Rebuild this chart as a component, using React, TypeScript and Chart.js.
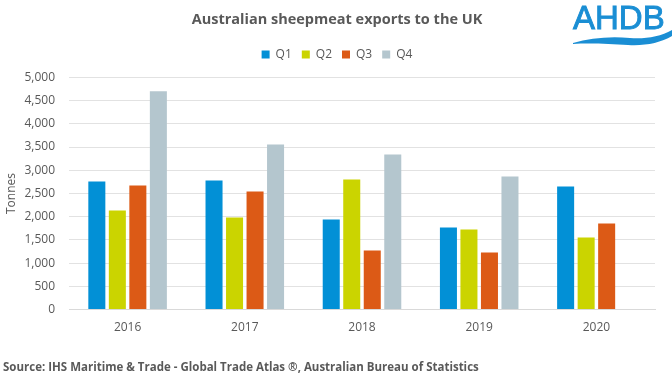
import React, { useEffect, useRef } from "react";
import { Chart, registerables } from "chart.js";

Chart.register(...registerables);

const years = ["2016", "2017", "2018", "2019", "2020"];
const q1 = [2760, 2780, 1940, 1770, 2650];
const q2 = [2135, 1985, 2800, 1725, 1550];
const q3 = [2670, 2545, 1270, 1230, 1855];
const q4: (number | null)[] = [4700, 3555, 3340, 2865, null];
const seriesNames = ["Q1", "Q2", "Q3", "Q4"];
const seriesColors = ["#0290d6", "#cbd400", "#dc5a16", "#b4c6ce"];

const TEXT = "#595959";
const FONT = "'Open Sans', 'Liberation Sans', sans-serif";

export default function App() {
  const ref = useRef<HTMLCanvasElement | null>(null);

  useEffect(() => {
    if (!ref.current) return;
    const values = [q1, q2, q3, q4];
    const chart = new Chart(ref.current, {
      type: "bar",
      data: {
        labels: years,
        datasets: seriesNames.map((name, i) => ({
          label: name,
          data: values[i],
          backgroundColor: seriesColors[i],
          borderWidth: 0,
          categoryPercentage: 0.7,
          barPercentage: 0.83,
          yAxisID: "y",
        })),
      },
      options: {
        animation: false,
        responsive: false,
        maintainAspectRatio: false,
        layout: { padding: { left: 2, right: 0, top: 9, bottom: 32 } },
        plugins: {
          title: {
            display: true,
            text: "Australian sheepmeat exports to the UK",
            color: TEXT,
            font: { family: FONT, size: 14.5, weight: "bold" },
            padding: { top: 2, bottom: 10 },
          },
          subtitle: {
            display: true,
            text: "",
            weight: 500,
            font: { size: 1, lineHeight: 1 },
            padding: { top: 0, bottom: 6 },
          },
          legend: {
            display: true,
            position: "top",
            labels: {
              boxWidth: 8,
              boxHeight: 8,
              color: TEXT,
              font: { family: FONT, size: 12 },
              padding: 10,
            },
          },
          tooltip: { enabled: false },
        },
        scales: {
          x: {
            grid: { display: false, drawTicks: false },
            border: { display: true, color: "#d9d9d9", width: 1 },
            ticks: {
              color: TEXT,
              font: { family: FONT, size: 12 },
              padding: 11,
            },
          },
          y: {
            min: 0,
            max: 5000,
            grid: { color: "#e2e2e2", lineWidth: 1, drawTicks: false },
            border: { display: false },
            ticks: {
              stepSize: 500,
              color: TEXT,
              font: { family: FONT, size: 12 },
              padding: 14,
              callback: (v: any) => Number(v).toLocaleString("en-US"),
            },
            title: {
              display: true,
              text: "Tonnes",
              color: TEXT,
              font: { family: FONT, size: 12 },
              padding: { top: 2, bottom: 0 },
            },
            afterFit: (scale: any) => {
              scale.width = 67;
            },
          },
          yRight: {
            position: "right",
            min: 0,
            max: 5000,
            grid: { display: false, drawTicks: false },
            border: { display: false },
            ticks: { display: false },
            afterFit: (scale: any) => {
              scale.width = 17;
            },
          },
        },
      },
    });
    return () => chart.destroy();
  }, []);

  return (
    <div
      style={{
        position: "fixed",
        left: 0,
        top: 0,
        width: 672,
        height: 378,
        background: "#ffffff",
        overflow: "hidden",
      }}
    >
      <canvas ref={ref} width={672} height={378} style={{ position: "absolute", left: 0, top: 0 }} />
      <svg
        width={112}
        height={52}
        style={{ position: "absolute", left: 560, top: 0 }}
        viewBox="0 0 112 52"
      >
        <text
          x={13}
          y={29}
          fill="#1a8ed4"
          stroke="#1a8ed4"
          strokeWidth={0.9}
          fontFamily="'Liberation Sans', Arial, sans-serif"
          fontSize={33}
        >
          AHDB
        </text>
        <path
          d="M13 43 C 30 38, 50 36, 70 38 C 85 39, 100 37, 112 30 L 112 36 C 100 43, 85 46, 68 45 C 50 44, 30 43, 13 44 Z"
          fill="#1a8ed4"
        />
      </svg>
      <div
        style={{
          position: "absolute",
          left: 3,
          top: 359,
          fontFamily: FONT,
          fontWeight: "bold",
          fontSize: 11.5,
          color: TEXT,
          whiteSpace: "nowrap",
        }}
      >
        Source: IHS Maritime &amp; Trade - Global Trade Atlas ®, Australian Bureau of Statistics
      </div>
    </div>
  );
}
